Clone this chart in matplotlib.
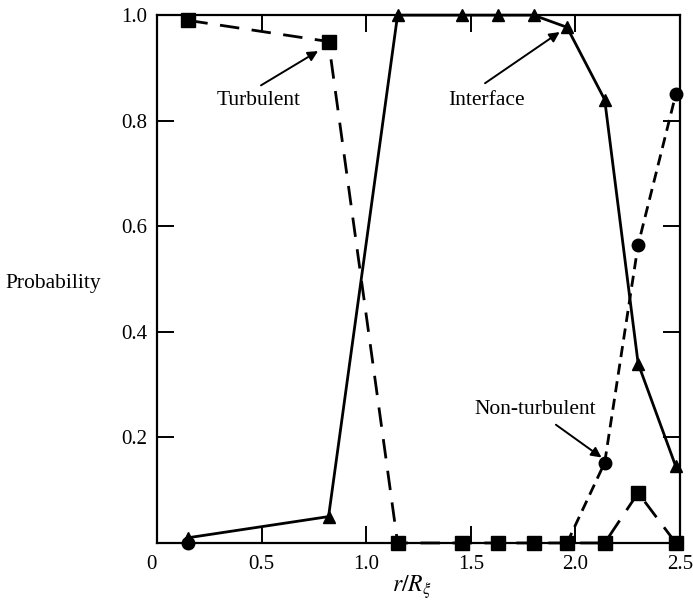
import matplotlib
matplotlib.use("Agg")
import matplotlib.pyplot as plt

plt.rcParams['font.family'] = ['Liberation Serif', 'DejaVu Serif']
plt.rcParams['mathtext.fontset'] = 'stix'

# radial positions r/R
r = [0.15, 0.82, 1.15, 1.46, 1.63, 1.80, 1.96, 2.14, 2.30, 2.48]

# intermittency probabilities at each station
turbulent = [0.99, 0.95, 0.0, 0.0, 0.0, 0.0, 0.0, 0.0, 0.095, 0.0]
interface = [0.01, 0.05, 1.0, 1.0, 1.0, 1.0, 0.977, 0.84, 0.34, 0.145]
non_turbulent = [0.0, None, None, None, None, None, 0.0, 0.152, 0.565, 0.85]

x_ticks = [0, 0.5, 1.0, 1.5, 2.0, 2.5]
x_tick_labels = ["0", "0.5", "1.0", "1.5", "2.0", "2.5"]
y_ticks = [0.2, 0.4, 0.6, 0.8, 1.0]
y_tick_labels = ["0.2", "0.4", "0.6", "0.8", "1.0"]

fig = plt.figure(figsize=(6.93, 6.06), dpi=100)
ax = fig.add_axes([0.2266, 0.104, 0.7546, 0.871])

nt = [float('nan') if v is None else v for v in non_turbulent]
ax.plot(r, interface, color='black', lw=2, linestyle='-',
        marker='^', ms=9, clip_on=False, zorder=3)
ax.plot(r, turbulent, color='black', lw=2, dashes=(7, 4.5),
        marker='s', ms=9.5, clip_on=False, zorder=4)
# circles sit on top of the squares where both read zero
ax.plot(r, nt, color='black', lw=2, dashes=(4, 2.4),
        marker='o', ms=9, clip_on=False, zorder=5)

ax.set_xlim(0, 2.5)
ax.set_ylim(0, 1.0)
ax.set_xticks(x_ticks)
ax.set_xticklabels(x_tick_labels)
ax.set_yticks(y_ticks)
ax.set_yticklabels(y_tick_labels)
ax.tick_params(direction='in', length=12, width=1.4, labelsize=15,
               top=True, right=True)
ax.tick_params(axis='x', pad=9)
ax.tick_params(axis='y', pad=7)
ax.get_xticklabels()[0].set_horizontalalignment('right')
for s in ax.spines.values():
    s.set_linewidth(1.6)

arrow = dict(arrowstyle='-|>', color='black', lw=1.4, mutation_scale=15,
             shrinkA=0, shrinkB=0)
ax.text(0.488, 0.839, "Turbulent", fontsize=15.5, ha='center', va='center')
ax.annotate("", xy=(0.77, 0.932), xytext=(0.497, 0.867), arrowprops=arrow)
ax.text(1.573, 0.839, "Interface", fontsize=15.5, ha='center', va='center')
ax.annotate("", xy=(1.925, 0.968), xytext=(1.568, 0.871), arrowprops=arrow)
ax.text(1.81, 0.252, "Non-turbulent", fontsize=15.5, ha='center', va='center')
ax.annotate("", xy=(2.125, 0.162), xytext=(1.907, 0.224), arrowprops=arrow)

fig.text(0.077, 0.533, "Probability", fontsize=15.5, ha='center', va='center')
fig.text(0.5945, 0.031, r"$r/R_{\xi}$", fontsize=17, ha='center', va='center')

fig.savefig("out.png", dpi=100)
